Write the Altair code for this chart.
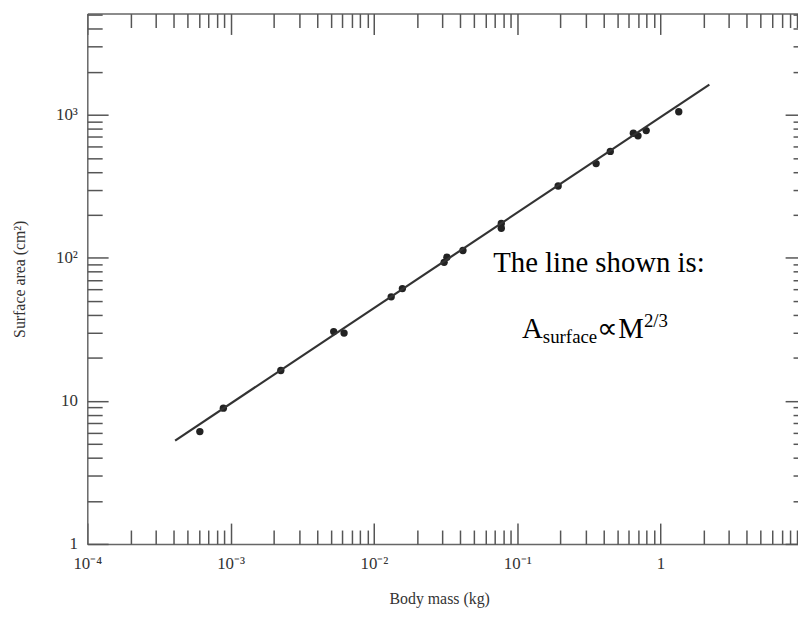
import altair as alt
import pandas as pd

# ---- data ----
body_mass = [6.1e-4, 8.9e-4, 2.24e-3, 5.24e-3, 6.19e-3, 0.0132, 0.0158, 0.0309, 0.0323,
             0.0418, 0.0774, 0.0774, 0.193, 0.355, 0.446, 0.646, 0.696, 0.794, 1.34]
surface_area = [6.1, 8.9, 16.3, 30.5, 29.8, 53.4, 61, 93, 101,
                112.5, 174, 161, 318, 456, 555, 743, 713, 776, 1050]

fit_mass = [4.1e-4, 2.19]
fit_area = [5.28, 1625]

x_major = [1e-4, 1e-3, 1e-2, 1e-1, 1]
x_labels = ["10\u207b\u2074", "10\u207b\u00b3", "10\u207b\u00b2", "10\u207b\u00b9", "1"]
y_major = [1, 10, 100, 1000]
y_labels = ["1", "10", "10\u00b2", "10\u00b3"]

x_domain = [1e-4, 9.1]
y_domain = [1, 5100]

x_minor = [m * d for d in [1e-4, 1e-3, 1e-2, 1e-1, 1] for m in range(2, 10) if m * d <= x_domain[1]]
y_minor = [m * d for d in [1, 10, 100, 1000] for m in range(2, 10) if m * d <= y_domain[1]]

note1_mass, note1_area = [0.068], [79.2]
note2_mass, note2_area = [0.108], [27.6]

FONT = "Liberation Serif"
TICK_COLOR = "#555"


def label_expr(values, labels):
    expr = "''"
    for v, l in reversed(list(zip(values, labels))):
        expr = f"abs(datum.value - {v!r}) < {v * 1e-6!r} ? '{l}' : ({expr})"
    return expr


xs = alt.Scale(type="log", domain=x_domain, nice=False)
ys = alt.Scale(type="log", domain=y_domain, nice=False)


def tick_axis(orient, values, size):
    return alt.Axis(orient=orient, values=values, tickSize=size, offset=-size,
                    labels=False, domain=False, grid=False, ticks=True,
                    tickColor=TICK_COLOR, tickWidth=1.5, title=None)


x_label_axis = alt.Axis(orient="bottom", values=x_major, labelExpr=label_expr(x_major, x_labels),
                        ticks=False, tickSize=0, domain=True, domainColor="#666", domainWidth=1.5,
                        grid=False, labelFont=FONT, labelFontSize=17, labelColor="#333",
                        labelPadding=12, labelFlush=False, labelOverlap=False,
                        title="Body mass (kg)", titleFont=FONT, titleFontSize=16,
                        titleFontWeight="normal", titleColor="#333",
                        titleY=55, titleX=355, titleBaseline="middle")
y_label_axis = alt.Axis(orient="left", values=y_major, labelExpr=label_expr(y_major, y_labels),
                        ticks=False, tickSize=0, domain=True, domainColor="#666", domainWidth=1.5,
                        grid=False, labelFont=FONT, labelFontSize=17, labelColor="#333",
                        labelPadding=10, labelFlush=False, labelOverlap=False,
                        title="Surface area (cm\u00b2)", titleFont=FONT, titleFontSize=16,
                        titleFontWeight="normal", titleColor="#333",
                        titleX=-68, titleBaseline="middle")
top_domain_axis = alt.Axis(orient="top", values=[], ticks=False, labels=False, domain=True,
                           domainColor="#666", domainWidth=1.5, grid=False, title=None)

pts_df = pd.DataFrame({"mass": body_mass, "area": surface_area})
fit_df = pd.DataFrame({"mass": fit_mass, "area": fit_area})
n1_df = pd.DataFrame({"mass": note1_mass, "area": note1_area})
n2_df = pd.DataFrame({"mass": note2_mass, "area": note2_area})

points = alt.Chart(pts_df).mark_circle(size=55, color="#222", opacity=1).encode(
    x=alt.X("mass:Q", scale=xs, axis=x_label_axis),
    y=alt.Y("area:Q", scale=ys, axis=y_label_axis),
)

line = alt.Chart(fit_df).mark_line(color="#333", strokeWidth=2.2).encode(
    x=alt.X("mass:Q", scale=xs, axis=tick_axis("bottom", x_major, 21)),
    y=alt.Y("area:Q", scale=ys, axis=tick_axis("left", y_major, 21)),
)

text_style = dict(font=FONT, color="black", align="left", baseline="alphabetic")

note1 = alt.Chart(n1_df).mark_text(fontSize=29, **text_style).encode(
    x=alt.X("mass:Q", scale=xs, axis=tick_axis("bottom", x_minor, 14)),
    y=alt.Y("area:Q", scale=ys, axis=tick_axis("left", y_minor, 15)),
    text=alt.value("The line shown is:"),
)

noteA = alt.Chart(n2_df).mark_text(fontSize=29, **text_style).encode(
    x=alt.X("mass:Q", scale=xs, axis=top_domain_axis),
    y=alt.Y("area:Q", scale=ys, axis=tick_axis("right", y_major, 13)),
    text=alt.value("A"),
)

noteSub = alt.Chart(n2_df).mark_text(fontSize=19, dx=21, dy=5, **text_style).encode(
    x=alt.X("mass:Q", scale=xs, axis=tick_axis("top", x_major, 21)),
    y=alt.Y("area:Q", scale=ys, axis=tick_axis("right", y_minor, 5)),
    text=alt.value("surface"),
)

noteProp = alt.Chart(n2_df).mark_text(fontSize=29, dx=76, **text_style).encode(
    x=alt.X("mass:Q", scale=xs, axis=tick_axis("top", x_minor, 14)),
    y=alt.Y("area:Q", scale=ys, axis=None),
    text=alt.value("\u221dM"),
)

noteSup = alt.Chart(n2_df).mark_text(fontSize=19, dx=123, dy=-11, **text_style).encode(
    x=alt.X("mass:Q", scale=xs, axis=None),
    y=alt.Y("area:Q", scale=ys, axis=None),
    text=alt.value("2/3"),
)

chart = alt.layer(points, line, note1, noteA, noteSub, noteProp, noteSup).resolve_axis(
    x="independent", y="independent"
).properties(
    width=717, height=535,
    autosize=alt.AutoSizeParams(type="none"),
    padding={"left": 80, "top": 3, "right": 0, "bottom": 64},
    background="white",
).configure_view(stroke=None)

chart.save("out.html", embed_options={"renderer": "svg", "actions": False})
